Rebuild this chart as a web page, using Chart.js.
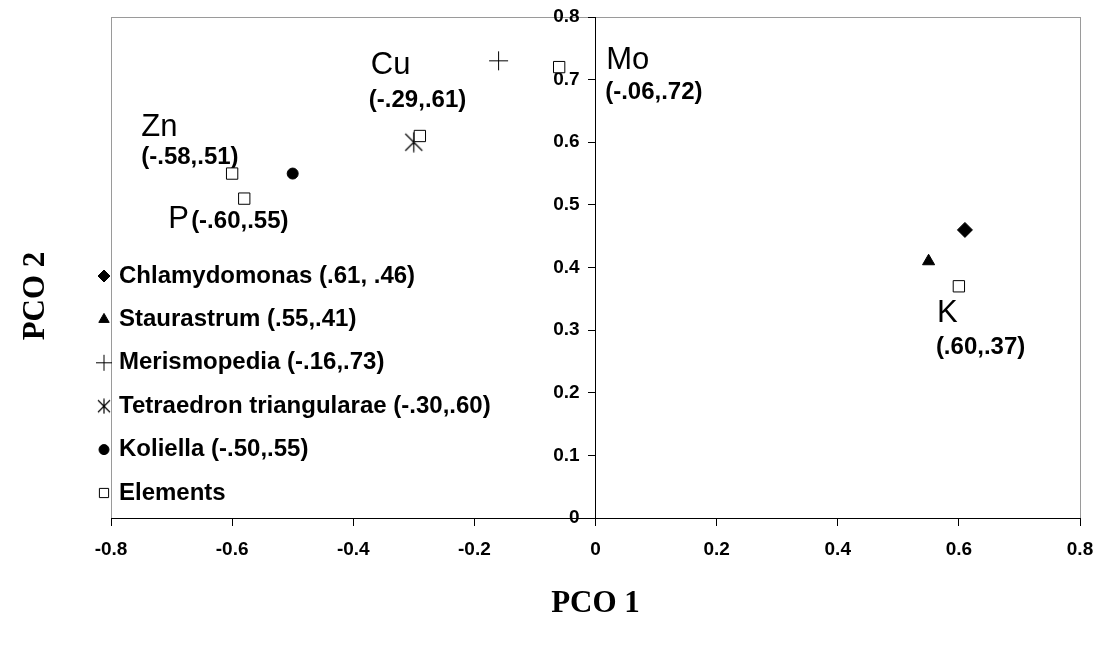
<!DOCTYPE html>
<html>
<head>
<meta charset="utf-8">
<script src="https://cdn.jsdelivr.net/npm/chart.js@4.4.1/dist/chart.umd.min.js"></script>
<style>
  html, body { margin: 0; padding: 0; background: #fff; }
  #wrap { width: 1101px; height: 646px; position: relative; }
</style>
</head>
<body>
<div id="wrap"><canvas id="pco"></canvas></div>
<script>
// species scores on PCO 1 / PCO 2
const speciesNames = ['Chlamydomonas', 'Staurastrum', 'Merismopedia', 'Tetraedron triangularae', 'Koliella'];
const speciesX = [0.61, 0.55, -0.16, -0.30, -0.50];
const speciesY = [0.46, 0.41, 0.73, 0.60, 0.55];
const speciesCoordText = ['(.61, .46)', '(.55,.41)', '(-.16,.73)', '(-.30,.60)', '(-.50,.55)'];

// element scores
const elementNames = ['Zn', 'P', 'Cu', 'Mo', 'K'];
const elementX = [-0.58, -0.60, -0.29, -0.06, 0.60];
const elementY = [0.51, 0.55, 0.61, 0.72, 0.37];
const elementCoordText = ['(-.58,.51)', '(-.60,.55)', '(-.29,.61)', '(-.06,.72)', '(.60,.37)'];

// axis ticks
const xTicks = [-0.8, -0.6, -0.4, -0.2, 0, 0.2, 0.4, 0.6, 0.8];
const yTicks = [0, 0.1, 0.2, 0.3, 0.4, 0.5, 0.6, 0.7, 0.8];

const SANS = '"Liberation Sans", Arial, sans-serif';
const SERIF = '"Liberation Serif", "Times New Roman", serif';

// X with a vertical stroke, like the Excel asterisk marker
function asteriskMarker(size) {
  const c = document.createElement('canvas');
  c.width = size; c.height = size;
  const g = c.getContext('2d');
  g.strokeStyle = '#000';
  g.lineWidth = 1.2;
  const m = size / 2, d = size / 2 - 2;
  g.beginPath();
  g.moveTo(m - d, m - d); g.lineTo(m + d, m + d);
  g.moveTo(m + d, m - d); g.lineTo(m - d, m + d);
  g.moveTo(m, 0.5); g.lineTo(m, size - 0.5);
  g.stroke();
  return c;
}

const speciesStyle = [
  { pointStyle: 'rectRot', radius: 7.5, fill: '#000', border: 1, legendRadius: 6 },
  { pointStyle: 'triangle', radius: 7, fill: '#000', border: 1, legendRadius: 6 },
  { pointStyle: 'cross', radius: 9.5, fill: '#000', border: 1, legendRadius: 8 },
  { pointStyle: asteriskMarker(21), radius: 10, fill: '#000', border: 1, legendMarker: asteriskMarker(16) },
  { pointStyle: 'circle', radius: 5.5, fill: '#000', border: 1, legendRadius: 5 }
];

// label offsets (px) from each element marker
const nameOffset = [[-103, -71], [-64, 46], [-49, -71], [47, -7], [-22, 27]];
const coordOffset = [[-103, -41], [-41, 48], [-51, -36], [46, 25], [-23, 61]];

const datasets = speciesNames.map((name, i) => ({
  label: name,
  data: [{ x: speciesX[i], y: speciesY[i] }],
  pointStyle: speciesStyle[i].pointStyle,
  pointRadius: speciesStyle[i].radius,
  backgroundColor: speciesStyle[i].fill,
  borderColor: '#000',
  borderWidth: speciesStyle[i].border,
  order: 1
}));
datasets.push({
  label: 'Elements',
  data: elementX.map((x, i) => ({ x, y: elementY[i] })),
  pointStyle: 'rect',
  pointRadius: 8,
  backgroundColor: '#fff',
  borderColor: '#000',
  borderWidth: 1,
  order: 0
});

const frame = {
  id: 'frame',
  beforeDraw(chart) {
    const { ctx, chartArea: a } = chart;
    ctx.save();
    ctx.strokeStyle = '#9a9a9a';
    ctx.lineWidth = 1;
    ctx.strokeRect(Math.round(a.left) + 0.5, Math.round(a.top) + 0.5,
      Math.round(a.right - a.left), Math.round(a.bottom - a.top));
    ctx.restore();
  }
};

const elementLabels = {
  id: 'elementLabels',
  beforeDatasetsDraw(chart) {
    const { ctx, scales } = chart;
    ctx.save();
    ctx.fillStyle = '#000';
    ctx.textBaseline = 'middle';
    ctx.textAlign = 'left';
    elementNames.forEach((name, i) => {
      const px = scales.x.getPixelForValue(elementX[i]);
      const py = scales.y.getPixelForValue(elementY[i]);
      ctx.font = '31px ' + SANS;
      ctx.fillText(name, px + nameOffset[i][0], py + nameOffset[i][1]);
      ctx.font = 'bold 24px ' + SANS;
      ctx.fillText(elementCoordText[i], px + coordOffset[i][0], py + coordOffset[i][1]);
    });
    ctx.restore();
  }
};

const sideLegend = {
  id: 'sideLegend',
  afterDraw(chart) {
    const { ctx } = chart;
    const drawPoint = Chart.helpers.drawPoint;
    ctx.save();
    ctx.textBaseline = 'middle';
    ctx.textAlign = 'left';
    const rows = speciesNames.map((n, i) => ({ text: n + ' ' + speciesCoordText[i], st: speciesStyle[i] }));
    rows.push({ text: 'Elements', st: { pointStyle: 'rect', legendRadius: 6.5, fill: '#fff', border: 1 } });
    rows.forEach((row, i) => {
      const y = 276 + i * 43.4;
      ctx.fillStyle = row.st.fill;
      ctx.strokeStyle = '#000';
      ctx.lineWidth = row.st.border;
      const style = row.st.legendMarker || row.st.pointStyle;
      drawPoint(ctx, { pointStyle: style, radius: row.st.legendRadius || 8, borderWidth: row.st.border, rotation: 0 }, 104, y);
      ctx.fillStyle = '#000';
      ctx.font = 'bold 24px ' + SANS;
      ctx.fillText(row.text, 119, y);
    });
    ctx.restore();
  }
};

const yTitle = {
  id: 'yTitle',
  afterDraw(chart) {
    const { ctx } = chart;
    ctx.save();
    ctx.translate(36, 296);
    ctx.rotate(-Math.PI / 2);
    ctx.font = 'bold 31px ' + SERIF;
    ctx.fillStyle = '#000';
    ctx.textAlign = 'center';
    ctx.textBaseline = 'middle';
    ctx.fillText('PCO 2', 0, 0);
    ctx.restore();
  }
};

const fmt = v => String(Number(v.toFixed(1)));

Chart.defaults.color = '#000';

new Chart(document.getElementById('pco'), {
  type: 'scatter',
  data: { datasets },
  options: {
    responsive: true,
    maintainAspectRatio: false,
    animation: false,
    layout: { autoPadding: false, padding: { left: 111, right: 21, top: 17, bottom: 23 } },
    plugins: {
      legend: { display: false },
      tooltip: { enabled: false }
    },
    scales: {
      x: {
        type: 'linear',
        position: 'bottom',
        min: -0.8,
        max: 0.8,
        afterBuildTicks: s => { s.ticks = xTicks.map(v => ({ value: v })); },
        // end labels fit inside the outer padding already
        afterFit: s => { s.paddingLeft = 0; s.paddingRight = 0; },
        ticks: { callback: fmt, padding: 12, font: { family: SANS, size: 19, weight: 'bold' }, color: '#000', maxRotation: 0 },
        grid: { drawOnChartArea: false, drawTicks: true, tickLength: 8, color: '#000' },
        border: { display: true, color: '#000', width: 1 },
        title: { display: true, text: 'PCO 1', color: '#000', font: { family: SERIF, size: 31, weight: 'bold' }, padding: { top: 13, bottom: 0 } }
      },
      y: {
        type: 'linear',
        position: { x: 0 },
        min: 0,
        max: 0.8,
        afterBuildTicks: s => { s.ticks = yTicks.map(v => ({ value: v })); },
        // axis sits at x = 0, so pad the labels away from it
        ticks: { callback: v => fmt(v) + '   ', font: { family: SANS, size: 19, weight: 'bold' }, color: '#000' },
        grid: { drawOnChartArea: false, drawTicks: true, tickLength: 7, color: '#000' },
        border: { display: true, color: '#000', width: 1 }
      }
    }
  },
  plugins: [frame, elementLabels, sideLegend, yTitle]
});
</script>
</body>
</html>
